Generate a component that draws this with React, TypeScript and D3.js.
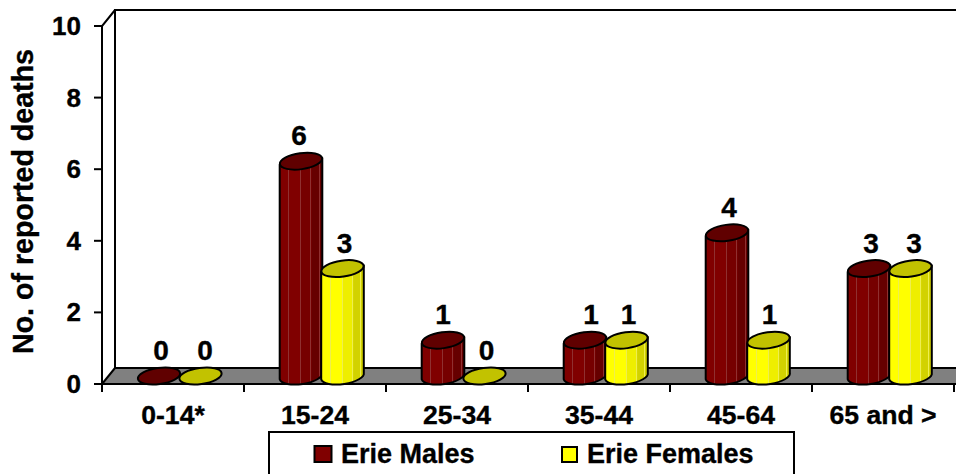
import React from "react";
import * as d3 from "d3";

const categories = ["0-14*", "15-24", "25-34", "35-44", "45-64", "65 and >"];
const maleValues = [0, 6, 1, 1, 4, 3];
const femaleValues = [0, 3, 0, 1, 1, 3];
const yTicks = [0, 2, 4, 6, 8, 10];

const maleLabelNudge = [2, -2, 0, 6, 2, 2];
const femaleLabelNudge = [4.5, 2, 2, 2, 1, 3.5];

const FONT = "'Liberation Sans', Arial, sans-serif";
const x = d3.scaleBand<string>().domain(categories).range([102, 954]);
const y = d3.scaleLinear().domain([0, 10]).range([384, 26]);

const RX = 21.3;
const RY = 8;
const TILT = -8;
const LIFT = 8;
const DX = 3.3;

const textStyle = {
  fontFamily: FONT,
  fontWeight: 700,
  fill: "#000",
  stroke: "#000",
  strokeWidth: 0.35,
};

function cylinderBody(cx: number, top: number, bottom: number) {
  const p = d3.path();
  p.moveTo(cx - RX, top + DX);
  p.lineTo(cx - RX, bottom + DX);
  return (
    p.toString() +
    ` A${RX} ${RY} ${TILT} 0 0 ${cx + RX} ${bottom - DX} L${cx + RX} ${top - DX} Z`
  );
}

const stripes = (base: string, mid: string, dark: string, light: string) => {
  const stops: [number, string][] = [
    [0, base], [0.2, base], [0.2, light], [0.225, light], [0.225, base],
    [0.48, base], [0.48, light], [0.5, light], [0.5, mid],
    [0.72, mid], [0.72, light], [0.74, light], [0.74, mid],
    [0.76, dark], [0.92, dark], [0.92, light], [0.94, light], [0.94, dark], [1, dark],
  ];
  return stops.map(([o, c], i) => <stop key={i} offset={o} stopColor={c} />);
};

function Cylinder({ cx, v, kind, nudge }: { cx: number; v: number; kind: "m" | "f"; nudge: number }) {
  const c = y(v) - LIFT;
  const b = y(0) - LIFT;
  const top = kind === "m" ? "#600000" : "#c2c200";
  return (
    <g>
      <g stroke="#000" strokeWidth={2}>
        {v > 0 && <path d={cylinderBody(cx, c, b)} fill={`url(#grad-${kind})`} strokeLinejoin="round" />}
        <ellipse cx={cx} cy={c} rx={RX} ry={RY} transform={`rotate(${TILT} ${cx} ${c})`} fill={top} />
      </g>
      <text x={cx + nudge} y={y(v) - 24} textAnchor="middle" fontSize={28} style={textStyle}>
        {v}
      </text>
    </g>
  );
}

export default function App() {
  const bw = x.bandwidth();
  const edges = [...categories.map((c) => x(c) as number), 954];
  return (
    <svg
      width={956}
      height={474}
      viewBox="0 0 956 474"
      style={{ position: "absolute", left: 0, top: 0, background: "#fff" }}
    >
      <defs>
        <linearGradient id="grad-m" x1="0" x2="1" y1="0" y2="0">
          {stripes("#800000", "#760000", "#660000", "#8f3030")}
        </linearGradient>
        <linearGradient id="grad-f" x1="0" x2="1" y1="0" y2="0">
          {stripes("#ffff00", "#eeee00", "#d2d200", "#eeee50")}
        </linearGradient>
      </defs>

      <polygon points="102,384 115,368 956,368 956,384" fill="#808080" />
      <g stroke="#000" strokeWidth={2} fill="none">
        <path d="M115,368 V10 H956" />
        <path d="M115,368 H956" />
        <path d="M115,368 L102,384" />
        <path d="M102,384 V26 L115,10" />
        <path d="M94,384 H956" />
        {yTicks.map((t) => (
          <path key={t} d={`M94,${y(t)} H102`} />
        ))}
        {edges.map((e) => (
          <path key={e} d={`M${e},384 V392`} />
        ))}
      </g>

      {yTicks.map((t) => (
        <text key={t} x={81} y={y(t) + 9} textAnchor="end" fontSize={26} style={textStyle}>
          {t}
        </text>
      ))}

      <text
        transform="translate(33,201.5) rotate(-90)"
        textAnchor="middle"
        fontSize={28.6}
        style={textStyle}
      >
        No. of reported deaths
      </text>

      {categories.map((c, i) => {
        const center = (x(c) as number) + bw / 2 + 7;
        return (
          <g key={c}>
            <Cylinder cx={center - 21} v={maleValues[i]} kind="m" nudge={maleLabelNudge[i]} />
            <Cylinder cx={center + 20.5} v={femaleValues[i]} kind="f" nudge={femaleLabelNudge[i]} />
            <text x={center - 7} y={424} textAnchor="middle" fontSize={26.6} style={textStyle}>
              {c}
            </text>
          </g>
        );
      })}

      <path d="M269,475 V432 H794 V475" fill="#fff" stroke="#000" strokeWidth={2} />
      <rect x={314.5} y={446} width={17} height={16} fill="#800000" stroke="#000" strokeWidth={2} />
      <text x={341} y={463} fontSize={27} style={textStyle}>
        Erie Males
      </text>
      <rect x={562} y={447} width={15} height={15} fill="#ffff00" stroke="#000" strokeWidth={2} />
      <text x={587} y={463} fontSize={27} style={textStyle}>
        Erie Females
      </text>
    </svg>
  );
}
